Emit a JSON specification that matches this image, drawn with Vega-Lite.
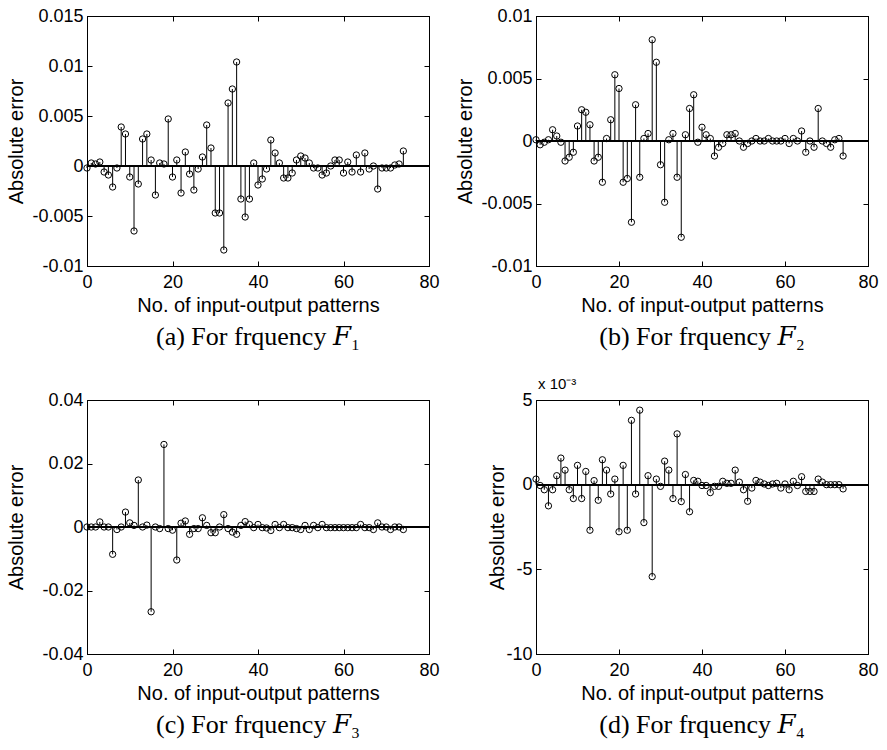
{
  "$schema": "https://vega.github.io/schema/vega-lite/v6.json",
  "padding": {"left": 5, "top": 6, "right": 5, "bottom": 5},
  "background": "white",
  "datasets": {
    "a": [{"x":0,"v":-0.0002},{"x":1,"v":0.0003},{"x":2,"v":0.0002},{"x":3,"v":0.0004},{"x":4,"v":-0.0006},{"x":5,"v":-0.0009},{"x":6,"v":-0.0021},{"x":7,"v":-0.0002},{"x":8,"v":0.0039},{"x":9,"v":0.0032},{"x":10,"v":-0.0011},{"x":11,"v":-0.0065},{"x":12,"v":-0.0018},{"x":13,"v":0.0027},{"x":14,"v":0.0032},{"x":15,"v":0.0006},{"x":16,"v":-0.0029},{"x":17,"v":0.0003},{"x":18,"v":0.0002},{"x":19,"v":0.0047},{"x":20,"v":-0.0011},{"x":21,"v":0.0006},{"x":22,"v":-0.0027},{"x":23,"v":0.0014},{"x":24,"v":-0.0008},{"x":25,"v":-0.0024},{"x":26,"v":-0.0003},{"x":27,"v":0.0009},{"x":28,"v":0.0041},{"x":29,"v":0.0018},{"x":30,"v":-0.0047},{"x":31,"v":-0.0047},{"x":32,"v":-0.0084},{"x":33,"v":0.0063},{"x":34,"v":0.0077},{"x":35,"v":0.0104},{"x":36,"v":-0.0033},{"x":37,"v":-0.0051},{"x":38,"v":-0.0033},{"x":39,"v":0.0003},{"x":40,"v":-0.0019},{"x":41,"v":-0.0013},{"x":42,"v":-0.0003},{"x":43,"v":0.0026},{"x":44,"v":0.0013},{"x":45,"v":0.0003},{"x":46,"v":-0.0012},{"x":47,"v":-0.0012},{"x":48,"v":-0.0007},{"x":49,"v":0.0006},{"x":50,"v":0.001},{"x":51,"v":0.0008},{"x":52,"v":0.0003},{"x":53,"v":-0.0002},{"x":54,"v":-0.0002},{"x":55,"v":-0.0009},{"x":56,"v":-0.0007},{"x":57,"v":0},{"x":58,"v":0.0006},{"x":59,"v":0.0006},{"x":60,"v":-0.0007},{"x":61,"v":0.0004},{"x":62,"v":-0.0006},{"x":63,"v":0.0011},{"x":64,"v":-0.0006},{"x":65,"v":0.0013},{"x":66,"v":-0.0003},{"x":67,"v":0},{"x":68,"v":-0.0023},{"x":69,"v":-0.0002},{"x":70,"v":-0.0002},{"x":71,"v":-0.0002},{"x":72,"v":0.0001},{"x":73,"v":0.0002},{"x":74,"v":0.0015}],
    "b": [{"x":0,"v":0.0001},{"x":1,"v":-0.0003},{"x":2,"v":-0.0001},{"x":3,"v":0.0001},{"x":4,"v":0.0009},{"x":5,"v":0.0004},{"x":6,"v":-0.0001},{"x":7,"v":-0.0016},{"x":8,"v":-0.0013},{"x":9,"v":-0.0009},{"x":10,"v":0.0012},{"x":11,"v":0.0025},{"x":12,"v":0.0023},{"x":13,"v":0.0013},{"x":14,"v":-0.0016},{"x":15,"v":-0.0013},{"x":16,"v":-0.0033},{"x":17,"v":0.0002},{"x":18,"v":0.0017},{"x":19,"v":0.0053},{"x":20,"v":0.0042},{"x":21,"v":-0.0033},{"x":22,"v":-0.003},{"x":23,"v":-0.0065},{"x":24,"v":0.0029},{"x":25,"v":-0.0029},{"x":26,"v":0.0002},{"x":27,"v":0.0006},{"x":28,"v":0.0081},{"x":29,"v":0.0063},{"x":30,"v":-0.0019},{"x":31,"v":-0.0049},{"x":32,"v":0.0001},{"x":33,"v":0.0006},{"x":34,"v":-0.0029},{"x":35,"v":-0.0077},{"x":36,"v":0.0005},{"x":37,"v":0.0026},{"x":38,"v":0.0037},{"x":39,"v":-0.0001},{"x":40,"v":0.0011},{"x":41,"v":0.0005},{"x":42,"v":0.0002},{"x":43,"v":-0.0012},{"x":44,"v":-0.0005},{"x":45,"v":-0.0002},{"x":46,"v":0.0005},{"x":47,"v":0.0005},{"x":48,"v":0.0006},{"x":49,"v":0},{"x":50,"v":-0.0005},{"x":51,"v":-0.0002},{"x":52,"v":0},{"x":53,"v":0.0002},{"x":54,"v":0},{"x":55,"v":0},{"x":56,"v":0.0002},{"x":57,"v":0},{"x":58,"v":0},{"x":59,"v":0},{"x":60,"v":0.0002},{"x":61,"v":-0.0002},{"x":62,"v":0.0002},{"x":63,"v":0},{"x":64,"v":0.0008},{"x":65,"v":-0.0009},{"x":66,"v":0},{"x":67,"v":-0.0005},{"x":68,"v":0.0026},{"x":69,"v":0},{"x":70,"v":-0.0002},{"x":71,"v":-0.0005},{"x":72,"v":0.0001},{"x":73,"v":0.0002},{"x":74,"v":-0.0012}],
    "c": [{"x":0,"v":0},{"x":1,"v":0},{"x":2,"v":0},{"x":3,"v":0.0016},{"x":4,"v":0},{"x":5,"v":0},{"x":6,"v":-0.0086},{"x":7,"v":-0.0008},{"x":8,"v":0},{"x":9,"v":0.0047},{"x":10,"v":0.0013},{"x":11,"v":0.0005},{"x":12,"v":0.0148},{"x":13,"v":0},{"x":14,"v":0.0006},{"x":15,"v":-0.0267},{"x":16,"v":0},{"x":17,"v":-0.0005},{"x":18,"v":0.026},{"x":19,"v":-0.0005},{"x":20,"v":-0.001},{"x":21,"v":-0.0104},{"x":22,"v":0.0012},{"x":23,"v":0.0019},{"x":24,"v":-0.0023},{"x":25,"v":-0.0005},{"x":26,"v":-0.0005},{"x":27,"v":0.0029},{"x":28,"v":0.0005},{"x":29,"v":-0.0018},{"x":30,"v":-0.0018},{"x":31,"v":0},{"x":32,"v":0.0039},{"x":33,"v":-0.0005},{"x":34,"v":-0.0016},{"x":35,"v":-0.0023},{"x":36,"v":0.0005},{"x":37,"v":0.0017},{"x":38,"v":0.0008},{"x":39,"v":-0.0002},{"x":40,"v":0.0008},{"x":41,"v":-0.0002},{"x":42,"v":-0.0003},{"x":43,"v":-0.0011},{"x":44,"v":0.0008},{"x":45,"v":-0.0002},{"x":46,"v":0.0008},{"x":47,"v":-0.0002},{"x":48,"v":-0.0002},{"x":49,"v":-0.0005},{"x":50,"v":-0.0008},{"x":51,"v":0.0005},{"x":52,"v":-0.0008},{"x":53,"v":0.0005},{"x":54,"v":-0.0002},{"x":55,"v":0.0008},{"x":56,"v":-0.0002},{"x":57,"v":-0.0002},{"x":58,"v":-0.0002},{"x":59,"v":-0.0002},{"x":60,"v":-0.0002},{"x":61,"v":-0.0002},{"x":62,"v":-0.0002},{"x":63,"v":-0.0002},{"x":64,"v":0.0008},{"x":65,"v":-0.0002},{"x":66,"v":-0.0002},{"x":67,"v":-0.0008},{"x":68,"v":0.0013},{"x":69,"v":0},{"x":70,"v":0},{"x":71,"v":-0.0008},{"x":72,"v":0},{"x":73,"v":0},{"x":74,"v":-0.0008}],
    "d": [{"x":0,"v":0.33},{"x":1,"v":-0.05},{"x":2,"v":-0.3},{"x":3,"v":-1.25},{"x":4,"v":-0.3},{"x":5,"v":0.53},{"x":6,"v":1.57},{"x":7,"v":0.86},{"x":8,"v":-0.3},{"x":9,"v":-0.82},{"x":10,"v":1.14},{"x":11,"v":-0.82},{"x":12,"v":0.78},{"x":13,"v":-2.69},{"x":14,"v":0.24},{"x":15,"v":-0.92},{"x":16,"v":1.47},{"x":17,"v":0.86},{"x":18,"v":-0.55},{"x":19,"v":0.33},{"x":20,"v":-2.78},{"x":21,"v":1.14},{"x":22,"v":-2.69},{"x":23,"v":3.8},{"x":24,"v":-0.55},{"x":25,"v":4.4},{"x":26,"v":-2.24},{"x":27,"v":0.53},{"x":28,"v":-5.43},{"x":29,"v":0.33},{"x":30,"v":-0.1},{"x":31,"v":1.39},{"x":32,"v":0.86},{"x":33,"v":-0.82},{"x":34,"v":3.0},{"x":35,"v":-1.0},{"x":36,"v":0.6},{"x":37,"v":-1.6},{"x":38,"v":0.25},{"x":39,"v":0.2},{"x":40,"v":-0.05},{"x":41,"v":-0.05},{"x":42,"v":-0.47},{"x":43,"v":-0.1},{"x":44,"v":-0.1},{"x":45,"v":0.2},{"x":46,"v":0.08},{"x":47,"v":0.08},{"x":48,"v":0.86},{"x":49,"v":0.15},{"x":50,"v":-0.3},{"x":51,"v":-0.98},{"x":52,"v":-0.2},{"x":53,"v":0.25},{"x":54,"v":0.15},{"x":55,"v":0.04},{"x":56,"v":-0.05},{"x":57,"v":0.04},{"x":58,"v":0.08},{"x":59,"v":-0.2},{"x":60,"v":0.04},{"x":61,"v":-0.3},{"x":62,"v":0.2},{"x":63,"v":-0.05},{"x":64,"v":0.47},{"x":65,"v":-0.4},{"x":66,"v":-0.4},{"x":67,"v":-0.4},{"x":68,"v":0.33},{"x":69,"v":0.15},{"x":70,"v":0},{"x":71,"v":0},{"x":72,"v":0},{"x":73,"v":0},{"x":74,"v":-0.25}],
    "note": [{"label": "x 10⁻³"}]
  },
  "columns": 2,
  "bounds": "flush",
  "spacing": {"column": 107, "row": 134},
  "concat": [
    {
      "width": 342, "height": 250,
      "data": {"name": "a"},
      "title": {"text": "(a) For frquency 𝐹₁", "orient": "bottom", "offset": 9},
      "layer": [
        {"mark": {"type": "rule", "color": "black", "strokeWidth": 1},
         "encoding": {
           "x": {"field": "x", "type": "quantitative", "scale": {"domain": [0, 80], "nice": false}, "axis": {"orient": "bottom", "values": [0, 20, 40, 60, 80], "title": "No. of input-output patterns"}},
           "y": {"field": "v", "type": "quantitative", "scale": {"domain": [-0.01, 0.015], "nice": false}, "axis": {"orient": "left", "values": [-0.01, -0.005, 0, 0.005, 0.01, 0.015], "title": "Absolute error", "minExtent": 58, "maxExtent": 58, "labelExpr": "datum.value < 0 ? '-' + format(-datum.value, '.3~f') : format(datum.value, '.3~f')"}},
           "y2": {"datum": 0}}},
        {"mark": {"type": "rule", "color": "black", "strokeWidth": 1},
         "encoding": {"y": {"datum": 0, "type": "quantitative", "axis": null}}},
        {"mark": {"type": "point", "shape": "circle", "filled": false, "color": "black", "size": 40, "strokeWidth": 1, "opacity": 1},
         "encoding": {
           "x": {"field": "x", "type": "quantitative", "axis": {"orient": "top", "values": [0, 20, 40, 60, 80], "labels": false, "title": null}},
           "y": {"field": "v", "type": "quantitative", "axis": {"orient": "right", "values": [-0.01, -0.005, 0, 0.005, 0.01, 0.015], "labels": false, "title": null}}}}
      ],
      "resolve": {"axis": {"x": "independent", "y": "independent"}}
    },
    {
      "width": 332, "height": 250,
      "data": {"name": "b"},
      "title": {"text": "(b) For frquency 𝐹₂", "orient": "bottom", "offset": 9},
      "layer": [
        {"mark": {"type": "rule", "color": "black", "strokeWidth": 1},
         "encoding": {
           "x": {"field": "x", "type": "quantitative", "scale": {"domain": [0, 80], "nice": false}, "axis": {"orient": "bottom", "values": [0, 20, 40, 60, 80], "title": "No. of input-output patterns"}},
           "y": {"field": "v", "type": "quantitative", "scale": {"domain": [-0.01, 0.01], "nice": false}, "axis": {"orient": "left", "values": [-0.01, -0.005, 0, 0.005, 0.01], "title": "Absolute error", "minExtent": 58, "maxExtent": 58, "labelExpr": "datum.value < 0 ? '-' + format(-datum.value, '.3~f') : format(datum.value, '.3~f')"}},
           "y2": {"datum": 0}}},
        {"mark": {"type": "rule", "color": "black", "strokeWidth": 1},
         "encoding": {"y": {"datum": 0, "type": "quantitative", "axis": null}}},
        {"mark": {"type": "point", "shape": "circle", "filled": false, "color": "black", "size": 40, "strokeWidth": 1, "opacity": 1},
         "encoding": {
           "x": {"field": "x", "type": "quantitative", "axis": {"orient": "top", "values": [0, 20, 40, 60, 80], "labels": false, "title": null}},
           "y": {"field": "v", "type": "quantitative", "axis": {"orient": "right", "values": [-0.01, -0.005, 0, 0.005, 0.01], "labels": false, "title": null}}}}
      ],
      "resolve": {"axis": {"x": "independent", "y": "independent"}}
    },
    {
      "width": 342, "height": 254,
      "data": {"name": "c"},
      "title": {"text": "(c) For frquency 𝐹₃", "orient": "bottom", "offset": 9},
      "layer": [
        {"mark": {"type": "rule", "color": "black", "strokeWidth": 1},
         "encoding": {
           "x": {"field": "x", "type": "quantitative", "scale": {"domain": [0, 80], "nice": false}, "axis": {"orient": "bottom", "values": [0, 20, 40, 60, 80], "title": "No. of input-output patterns"}},
           "y": {"field": "v", "type": "quantitative", "scale": {"domain": [-0.04, 0.04], "nice": false}, "axis": {"orient": "left", "values": [-0.04, -0.02, 0, 0.02, 0.04], "title": "Absolute error", "minExtent": 58, "maxExtent": 58, "labelExpr": "datum.value < 0 ? '-' + format(-datum.value, '.2~f') : format(datum.value, '.2~f')"}},
           "y2": {"datum": 0}}},
        {"mark": {"type": "rule", "color": "black", "strokeWidth": 1},
         "encoding": {"y": {"datum": 0, "type": "quantitative", "axis": null}}},
        {"mark": {"type": "point", "shape": "circle", "filled": false, "color": "black", "size": 40, "strokeWidth": 1, "opacity": 1},
         "encoding": {
           "x": {"field": "x", "type": "quantitative", "axis": {"orient": "top", "values": [0, 20, 40, 60, 80], "labels": false, "title": null}},
           "y": {"field": "v", "type": "quantitative", "axis": {"orient": "right", "values": [-0.04, -0.02, 0, 0.02, 0.04], "labels": false, "title": null}}}}
      ],
      "resolve": {"axis": {"x": "independent", "y": "independent"}}
    },
    {
      "width": 332, "height": 254,
      "data": {"name": "d"},
      "title": {"text": "(d) For frquency 𝐹₄", "orient": "bottom", "offset": 9},
      "layer": [
        {"mark": {"type": "rule", "color": "black", "strokeWidth": 1},
         "encoding": {
           "x": {"field": "x", "type": "quantitative", "scale": {"domain": [0, 80], "nice": false}, "axis": {"orient": "bottom", "values": [0, 20, 40, 60, 80], "title": "No. of input-output patterns"}},
           "y": {"field": "v", "type": "quantitative", "scale": {"domain": [-10, 5], "nice": false}, "axis": {"orient": "left", "values": [-10, -5, 0, 5], "title": "Absolute error", "minExtent": 26, "maxExtent": 26, "labelExpr": "datum.value < 0 ? '-' + format(-datum.value, 'd') : format(datum.value, 'd')"}},
           "y2": {"datum": 0}}},
        {"mark": {"type": "rule", "color": "black", "strokeWidth": 1},
         "encoding": {"y": {"datum": 0, "type": "quantitative", "axis": null}}},
        {"mark": {"type": "point", "shape": "circle", "filled": false, "color": "black", "size": 40, "strokeWidth": 1, "opacity": 1},
         "encoding": {
           "x": {"field": "x", "type": "quantitative", "axis": {"orient": "top", "values": [0, 20, 40, 60, 80], "labels": false, "title": null}},
           "y": {"field": "v", "type": "quantitative", "axis": {"orient": "right", "values": [-10, -5, 0, 5], "labels": false, "title": null}}}},
        {"data": {"name": "note"},
         "mark": {"type": "text", "align": "left", "baseline": "bottom", "dx": 2, "dy": -8, "font": "Liberation Sans", "fontSize": 15, "color": "black"},
         "encoding": {
           "x": {"datum": 0, "type": "quantitative", "axis": null},
           "y": {"datum": 5, "type": "quantitative", "axis": null},
           "text": {"field": "label"}}}
      ],
      "resolve": {"axis": {"x": "independent", "y": "independent"}}
    }
  ],
  "config": {
    "view": {"stroke": "black", "strokeWidth": 1},
    "axis": {
      "grid": false,
      "domainColor": "black", "domainWidth": 1,
      "tickColor": "black", "tickSize": -5, "tickWidth": 1,
      "labelColor": "black", "labelFont": "Liberation Sans", "labelFontSize": 18, "labelPadding": 9,
      "labelFlush": false, "labelOverlap": false,
      "titleColor": "black", "titleFont": "Liberation Sans", "titleFontSize": 20, "titleFontWeight": "normal", "titlePadding": 3
    },
    "axisX": {"labelPadding": 12, "titlePadding": 4},
    "title": {"font": "Liberation Serif, DejaVu Serif, serif", "fontSize": 26, "fontWeight": "normal", "color": "black", "anchor": "middle"}
  }
}
